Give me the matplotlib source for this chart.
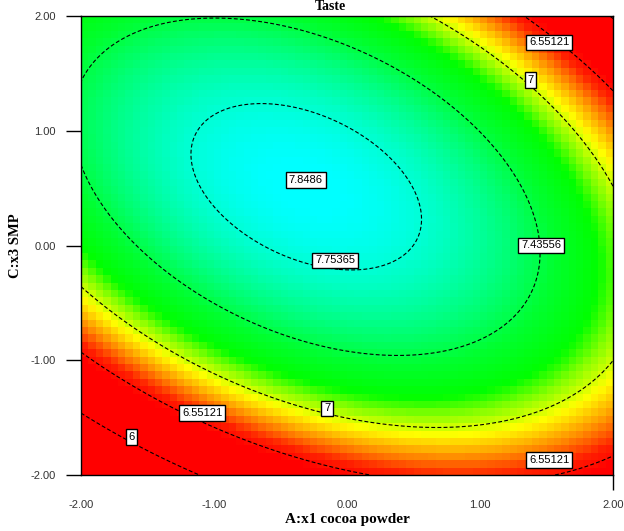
import numpy as np
import matplotlib
matplotlib.use('Agg')
import matplotlib.pyplot as plt
from matplotlib.colors import LinearSegmentedColormap, Normalize

pts_x = [-0.31,
         -1.14, -1.10, -0.76, -0.40, 0.03, 0.25, 0.55, 0.25, -0.09, -0.27, -0.69,
         -2.00, -2.00, -1.00, 0.40, 0.63, 1.46, 1.46, 1.18, 0.55, -0.12, -0.54, -1.09,
         0.67, 1.16, 1.38, 2.00, -2.00, -1.29, -0.54, -0.12, 0.61, 2.00,
         1.40, 1.52, 1.73, 2.00, -2.00, -1.09, 0.00, 1.60,
         -2.00, -1.62, -1.16]
pts_y = [0.57,
         0.81, 1.00, 1.21, 1.27, 1.00, 0.81, 0.22, -0.17, -0.13, -0.15, 0.07,
         1.44, 0.73, 1.97, 1.58, 1.35, 0.13, 0.00, -0.72, -0.97, -0.89, -0.74, -0.45,
         2.00, 1.51, 1.44, 0.54, -0.39, -0.93, -1.37, -1.48, -1.62, -1.08,
         2.00, 1.77, 1.58, 1.38, -0.95, -1.48, -1.98, -1.92,
         -1.48, -1.67, -2.00]
pts_z = [7.8486] + [7.75365] * 11 + [7.43556] * 12 + [7.0] * 10 + [6.55121] * 8 + [6.0] * 3

levels = [6.0, 6.55121, 7.0, 7.43556, 7.75365]
label_pos = [(1.52, 1.77), (1.38, 1.44), (-0.09, -0.13), (1.46, 0.0),
             (-0.15, -1.42), (-1.09, -1.46), (-1.62, -1.67), (1.52, -1.87)]
max_pt = (-0.31, 0.57)
max_text = '7.8486'

ticks = [-2, -1, 0, 1, 2]
tick_labels = ['-2.00', '-1.00', '0.00', '1.00', '2.00']

# quadratic response surface fitted through the read points
px, py, pz = np.array(pts_x), np.array(pts_y), np.array(pts_z)
A = np.column_stack([np.ones_like(px), px, py, px * py, px ** 2, py ** 2])
coef = np.linalg.lstsq(A, pz, rcond=None)[0]

def surface(x, y):
    return coef[0] + coef[1] * x + coef[2] * y + coef[3] * x * y + coef[4] * x ** 2 + coef[5] * y ** 2

cmap = LinearSegmentedColormap.from_list('de', [
    (0.0, '#ff0000'), (0.09, '#ff2000'), (0.22, '#ff9a00'), (0.33, '#ffff00'),
    (0.44, '#7fff00'), (0.52, '#00ff00'), (0.66, '#00ff30'), (1.0, '#00ffff')])
norm = Normalize(6.5, 7.85)

fig = plt.figure(figsize=(6.24, 5.31), dpi=100)
ax = fig.add_axes([81 / 624, 1 - 475 / 531, 532 / 624, 459 / 531])

# coarse colour grid, like the blocky original
ex = np.linspace(-2, 2, 73)
ey = np.linspace(-2, 2, 63)
cx, cy = np.meshgrid((ex[:-1] + ex[1:]) / 2, (ey[:-1] + ey[1:]) / 2)
ax.pcolormesh(ex, ey, surface(cx, cy), cmap=cmap, norm=norm, shading='flat')

gx, gy = np.meshgrid(np.linspace(-2, 2, 300), np.linspace(-2, 2, 300))
cs = ax.contour(gx, gy, surface(gx, gy), levels=levels, colors='black',
                linewidths=0.8, linestyles=[(0, (3.5, 2))])
fmt = {6.0: '6', 6.55121: '6.55121', 7.0: '7', 7.43556: '7.43556', 7.75365: '7.75365'}
lbls = ax.clabel(cs, fmt=fmt, manual=label_pos, inline=False, fontsize=8)
for t, p in zip(lbls, label_pos):
    t.set_rotation(0)
    t.set_position(p)
    t.set_fontfamily('Liberation Sans')
    t.set_bbox(dict(facecolor='white', edgecolor='black', linewidth=1, pad=2))
ax.text(max_pt[0], max_pt[1], max_text, ha='center', va='center', fontsize=8,
        family='Liberation Sans',
        bbox=dict(facecolor='white', edgecolor='black', linewidth=1, pad=2))

ax.set_xlim(-2, 2)
ax.set_ylim(-2, 2)
ax.set_xticks(ticks)
ax.set_xticklabels(tick_labels)
ax.set_yticks(ticks)
ax.set_yticklabels(tick_labels)
ax.tick_params(length=11, width=1, pad=7, labelsize=8, labelcolor='#333333')
for t in ax.xaxis.get_major_ticks()[:-1]:
    t.tick1line.set_visible(False)
for lab in ax.get_xticklabels() + ax.get_yticklabels():
    lab.set_fontfamily('Liberation Sans')
for s in ax.spines.values():
    s.set_linewidth(1)

ax.set_xlabel('A:x1 cocoa powder', family='Liberation Serif', fontweight='bold', fontsize=11, labelpad=2)
ax.set_ylabel('C:x3 SMP', family='Liberation Serif', fontweight='bold', fontsize=10.5, labelpad=6)
fig.text(330 / 624, 1.0, 'Taste', ha='center', va='top',
         family='Liberation Serif', fontweight='bold', fontsize=10)

fig.savefig('out.png', dpi=100)
